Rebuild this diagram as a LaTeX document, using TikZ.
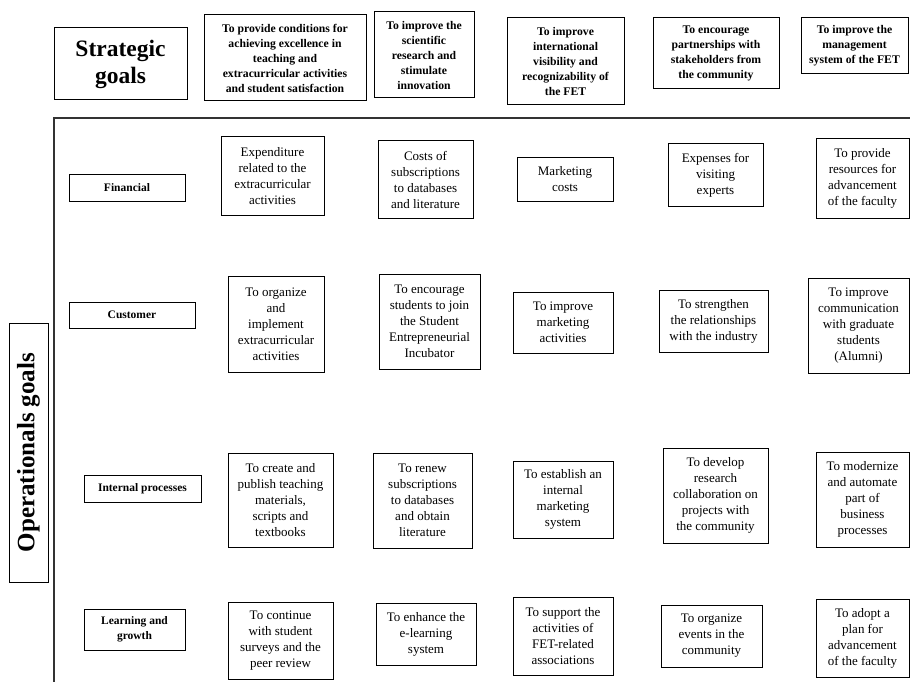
\documentclass[tikz,border=0pt]{standalone}
\usepackage{fontspec}
\setmainfont{Liberation Serif}

\begin{document}
\begin{tikzpicture}[x=1pt,y=-1pt,
        every node/.style={draw,line width=1pt,inner sep=0pt,align=center},
        sgnode/.style={font=\bfseries\fontsize{11.7}{15}\selectfont},
        rownode/.style={font=\bfseries\fontsize{11.5}{15}\selectfont},
        ognode/.style={font=\fontsize{13}{16}\selectfont},
        bignode/.style={font=\bfseries\fontsize{23.5}{27}\selectfont}
        ]
        \useasboundingbox (0,0) rectangle (910,682);

        % the strategic goals
        \node[bignode,minimum width=133,minimum height=72] (sg) at (120.5,64) {Strategic\\goals};
        \node[sgnode,minimum width=162,minimum height=86] (sg1) at (285,58) {To provide conditions for\\achieving excellence in\\teaching and\\extracurricular activities\\and student satisfaction};
        \node[sgnode,minimum width=100,minimum height=86] (sg2) at (424,55) {To improve the\\scientific\\research and\\stimulate\\innovation};
        \node[sgnode,minimum width=117,minimum height=87] (sg3) at (565.5,61.5) {To improve\\international\\visibility and\\recognizability of\\the FET};
        \node[sgnode,minimum width=126,minimum height=71] (sg4) at (716,53.5) {To encourage\\partnerships with\\stakeholders from\\the community};
        \node[sgnode,minimum width=107,minimum height=56] (sg5) at (854.5,46) {To improve the\\management\\system of the FET};

        % the frame
        \draw[line width=1.5pt,black!80] (54,682) -- (54,118) -- (910,118);

        % the perspectives
        \node[bignode,font=\bfseries\fontsize{25}{27}\selectfont,rotate=90,minimum width=259,minimum height=39] (og) at (28.5,452.5) {Operationals goals};
        \node[rownode,minimum width=116,minimum height=27] (fin) at (127,187.5) {Financial};
        \node[rownode,minimum width=126,minimum height=26] (cus) at (132,315) {Customer};
        \node[rownode,minimum width=117,minimum height=27] (int) at (142.5,488.5) {Internal processes};
        \node[rownode,minimum width=101,minimum height=41] (lrn) at (134.5,629.5) {Learning and\\growth};

        % financial
        \node[ognode,minimum width=103,minimum height=78] (f1) at (272.5,176) {Expenditure\\related to the\\extracurricular\\activities};
        \node[ognode,minimum width=95,minimum height=77] (f2) at (425.5,179.5) {Costs of\\subscriptions\\to databases\\and literature};
        \node[ognode,minimum width=96,minimum height=44] (f3) at (565,179) {Marketing\\costs};
        \node[ognode,minimum width=95,minimum height=62] (f4) at (715.5,175) {Expenses\ for\\visiting\\experts};
        \node[ognode,minimum width=93,minimum height=79] (f5) at (862.5,178.5) {To provide\\resources for\\advancement\\of the faculty};

        % customer
        \node[ognode,minimum width=96,minimum height=96] (c1) at (276,324) {To organize\\and\\implement\\extracurricular\\activities};
        \node[ognode,minimum width=101,minimum height=95] (c2) at (429.5,321.5) {To encourage\\students to join\\the Student\\Entrepreneurial\\Incubator};
        \node[ognode,minimum width=100,minimum height=61] (c3) at (563,322.5) {To improve\\marketing\\activities};
        \node[ognode,minimum width=109,minimum height=62] (c4) at (713.5,321) {To strengthen\\the relationships\\with the industry};
        \node[ognode,minimum width=101,minimum height=95] (c5) at (858.5,325.5) {To improve\\communication\\with graduate\\students\\(Alumni)};

        % internal processes
        \node[ognode,minimum width=105,minimum height=94] (i1) at (280.5,500) {To create\ and\\publish teaching\\materials,\\scripts and\\textbooks};
        \node[ognode,minimum width=99,minimum height=95] (i2) at (422.5,500.5) {To renew\\subscriptions\\to databases\\and obtain\\literature};
        \node[ognode,minimum width=100,minimum height=77] (i3) at (563,499.5) {To establish an\\internal\\marketing\\system};
        \node[ognode,minimum width=105,minimum height=95] (i4) at (715.5,495.5) {To develop\\research\\collaboration on\\projects with\\the community};
        \node[ognode,minimum width=93,minimum height=95] (i5) at (862.5,499.5) {To modernize\\and automate\\part of\\business\\processes};

        % learning and growth
        \node[ognode,minimum width=105,minimum height=77] (l1) at (280.5,640.5) {To continue\\with student\\surveys and the\\peer review};
        \node[ognode,minimum width=100,minimum height=62] (l2) at (426,634) {To enhance\ the\\e-learning\\system};
        \node[ognode,minimum width=100,minimum height=78] (l3) at (563,636) {To support the\\activities of\\FET-related\\associations};
        \node[ognode,minimum width=101,minimum height=62] (l4) at (711.5,636) {To organize\\events in the\\community};
        \node[ognode,minimum width=93,minimum height=78] (l5) at (862.5,638) {To adopt a\\plan for\\advancement\\of the faculty};
\end{tikzpicture}
\end{document}
